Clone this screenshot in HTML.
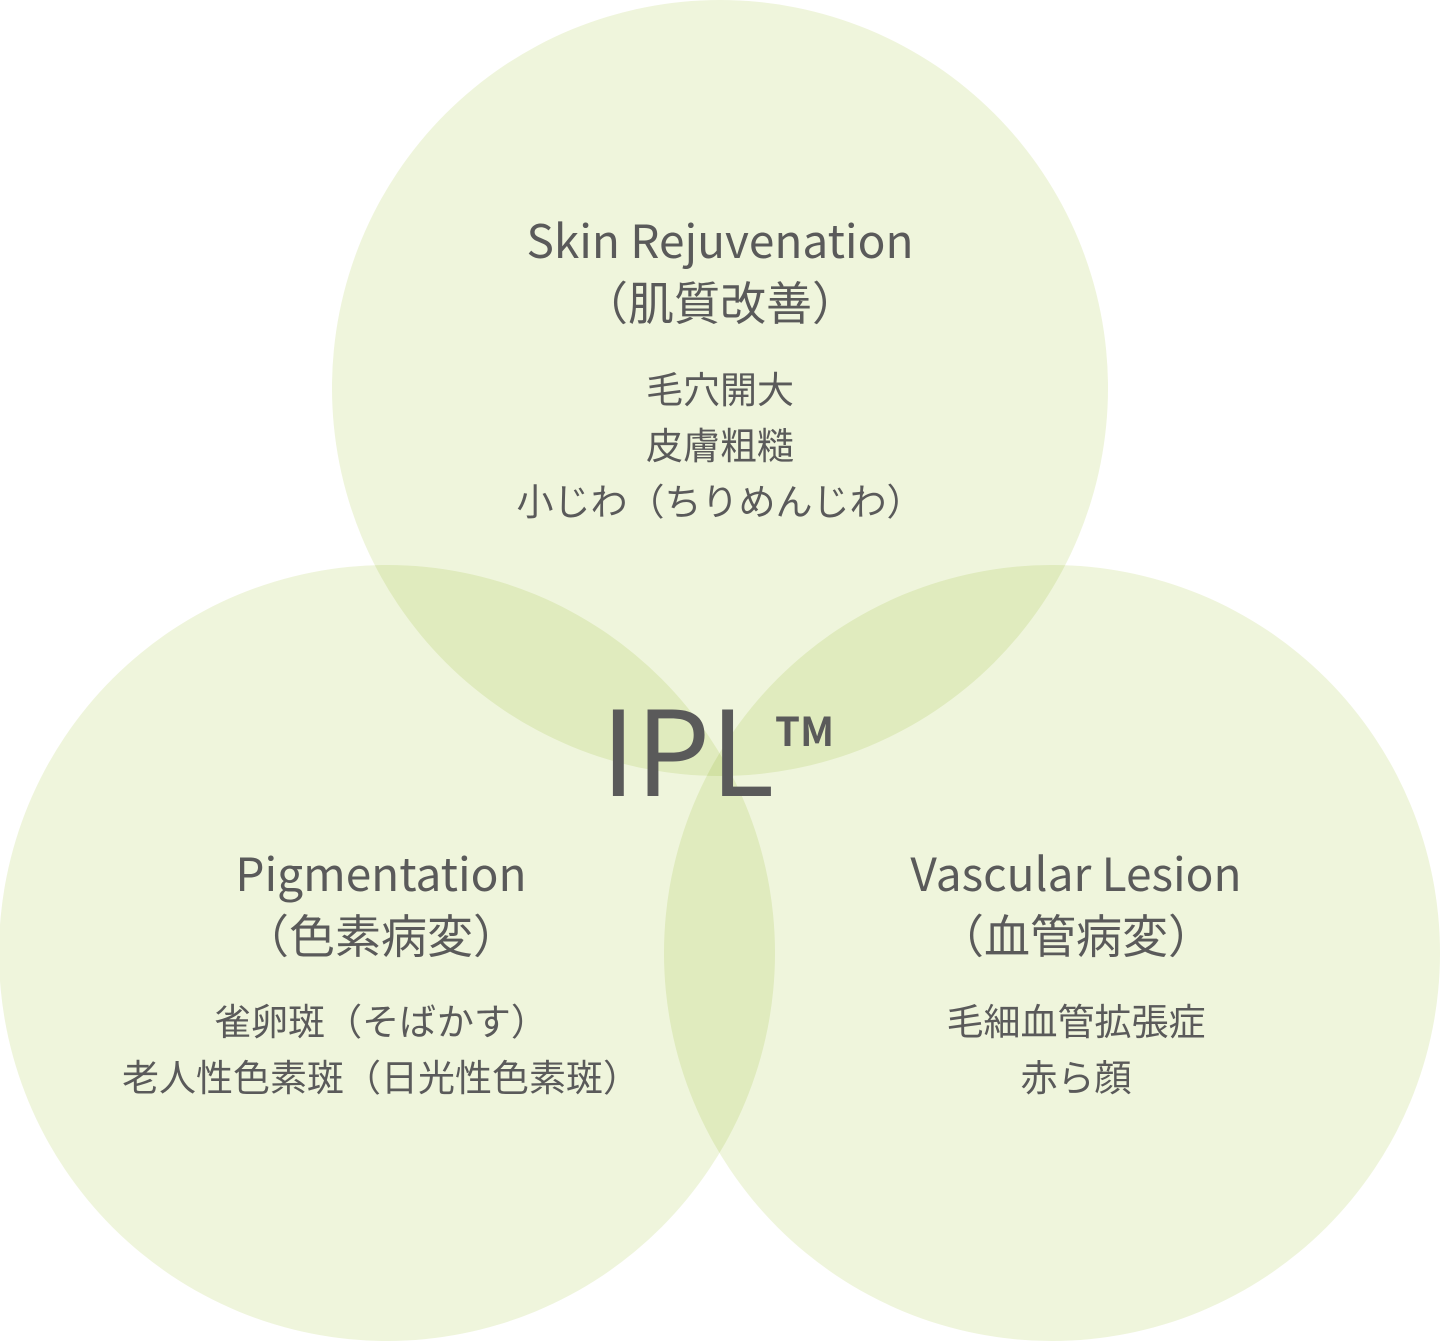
<!DOCTYPE html>
<html><head><meta charset="utf-8">
<style>
html,body{margin:0;padding:0;background:#fff;}
body{width:1440px;height:1342px;position:relative;overflow:hidden;font-family:"Noto Sans CJK JP","Liberation Sans",sans-serif;color:#5a5a5a;}
svg{position:absolute;left:0;top:0;}
.t{position:absolute;text-align:center;white-space:nowrap;transform:translateX(-50%);}
.h{font-size:46px;font-weight:400;line-height:62px;}
.b{font-size:37px;line-height:56px;}
</style></head><body>
<svg width="1440" height="1342">
<circle cx="720" cy="388" r="388" fill="#eff5dc" style="mix-blend-mode:multiply"/>
<circle cx="387" cy="953" r="388" fill="#eff5dc" style="mix-blend-mode:multiply"/>
<circle cx="1052" cy="953" r="388" fill="#eff5dc" style="mix-blend-mode:multiply"/>
</svg>
<div class="t h" style="left:720px;top:208px">Skin Rejuvenation<br>（肌質改善）</div>
<div class="t b" style="left:720px;top:359px">毛穴開大<br>皮膚粗糙<br>小じわ（ちりめんじわ）</div>
<div class="t h" style="left:381px;top:841px">Pigmentation<br>（色素病変）</div>
<div class="t b" style="left:381px;top:991px">雀卵斑（そばかす）<br>老人性色素斑（日光性色素斑）</div>
<div class="t h" style="left:1076px;top:841px">Vascular Lesion<br>（血管病変）</div>
<div class="t b" style="left:1076px;top:991px">毛細血管拡張症<br>赤ら顔</div>
<div style="position:absolute;left:601px;top:665px;font-size:118px;font-weight:400;line-height:160px;white-space:nowrap;">IPL</div>
<div style="position:absolute;left:775px;top:709px;font-size:40px;font-weight:700;line-height:40px;white-space:nowrap;">TM</div>
</body></html>
